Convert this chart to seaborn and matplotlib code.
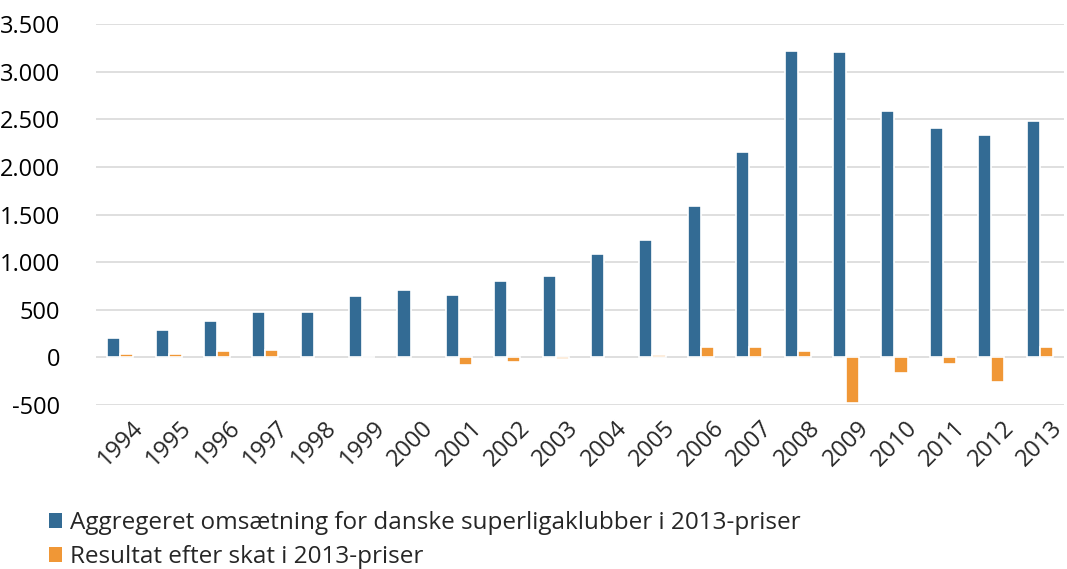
import matplotlib
matplotlib.use("Agg")
import matplotlib.pyplot as plt
import matplotlib.ticker as mticker
import matplotlib.transforms as mtransforms
from matplotlib.patches import Patch
import seaborn as sns
import pandas as pd

years = [str(y) for y in range(1994, 2014)]
omsaetning = [206, 287, 382, 476, 478, 645, 710, 655, 800, 850,
              1085, 1230, 1585, 2160, 3220, 3210, 2585, 2410, 2330, 2485]
resultat = [33, 38, 66, 77, 0, 10, 0, -80, -50, -20,
            0, 27, 105, 115, 66, -473, -165, -70, -257, 105]
series_names = ["Aggregeret omsætning for danske superligaklubber i 2013-priser",
                "Resultat efter skat i 2013-priser"]
colors = ["#336B94", "#F09736"]

df = pd.DataFrame({
    "year": years * 2,
    "value": omsaetning + resultat,
    "series": [series_names[0]] * len(years) + [series_names[1]] * len(years),
})

sns.set_style("white")
plt.rcParams["font.family"] = ["Open Sans", "DejaVu Sans"]

fig = plt.figure(figsize=(10.67, 5.69), dpi=100)
ax = fig.add_axes([0.09, 0.288, 0.907, 0.67])

sns.barplot(data=df, x="year", y="value", hue="series", palette=colors,
            width=0.54, ax=ax, edgecolor="white", linewidth=1.2,
            saturation=1, legend=False)
for p in ax.patches:
    if p.get_height() == 0:
        p.set_linewidth(0)
        p.set_visible(False)

ax.set_ylim(-500, 3500)
ax.set_yticks(range(-500, 3501, 500))
ax.yaxis.set_major_formatter(mticker.FuncFormatter(
    lambda v, p: f"{int(v):,}".replace(",", ".")))
ax.grid(axis="y", color="#D9D9D9", linewidth=1.2)
ax.set_axisbelow(True)
for s in ax.spines.values():
    s.set_visible(False)
ax.set_xlabel("")
ax.set_ylabel("")
ax.tick_params(axis="y", labelsize=17, pad=26, length=0, colors="#000000")
ax.tick_params(axis="x", labelsize=17, length=0, pad=8)
offset = mtransforms.ScaledTranslation(11 / 100, 0, fig.dpi_scale_trans)
for lab in ax.get_xticklabels():
    lab.set_rotation(45)
    lab.set_ha("right")
    lab.set_rotation_mode("anchor")
    lab.set_transform(lab.get_transform() + offset)
ax.set_xlim(-0.5, len(years) - 0.5)

handles = [Patch(facecolor=c, edgecolor="none") for c in colors]
fig.legend(handles, series_names, loc="upper left", bbox_to_anchor=(0.046, 0.102),
           frameon=False, fontsize=17.5, handlelength=0.55, handleheight=0.55,
           handletextpad=0.3, labelspacing=0.42, borderaxespad=0, borderpad=0)

fig.savefig("out.png", dpi=100)
